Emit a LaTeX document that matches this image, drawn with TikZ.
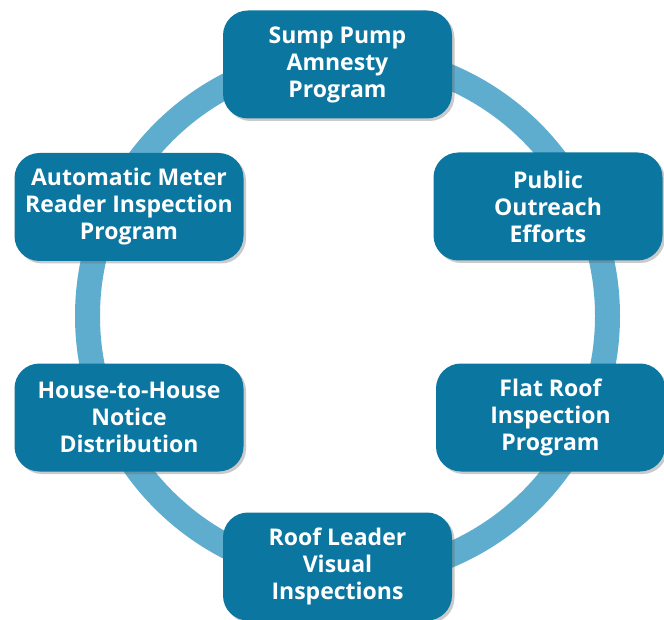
\documentclass[tikz,border=0pt]{standalone}
\usepackage{fontspec}
\setmainfont{Open Sans}
\usepackage{tikz}
\usetikzlibrary{shadows}
\usepackage{xcolor}
\definecolor{ringblue}{HTML}{5EADCE}
\definecolor{boxblue}{HTML}{0B76A0}
\newcommand\programnode[2]{node[programbox] (#1) {#2}}

\begin{document}
\begin{tikzpicture}[x=1pt, y=-1pt,
        programbox/.style={draw=none, fill=boxblue, text=white, rounded corners=25pt,
            minimum width=229pt, minimum height=108pt, inner sep=0pt, align=center,
            font=\bfseries\fontsize{23}{27}\selectfont,
            drop shadow={shadow xshift=2.5pt, shadow yshift=-2.5pt, opacity=.35, fill=black!60}}]
    % Рамка
    \useasboundingbox (0,0) rectangle (664,620);

    % Кольцо
    \coordinate (center) at (347.5,316);
    \draw [ringblue, line width=25pt] (center) circle [radius=260pt];

    % Блоки
    \path
        (337.5,64.5) \programnode{sump}{Sump Pump\\Amnesty\\Program}
        (548,206.5) \programnode{outreach}{Public\\Outreach\\Efforts}
        (550.5,417.5) \programnode{flatroof}{Flat Roof\\Inspection\\Program}
        (337.5,566.5) \programnode{leader}{Roof Leader\\Visual\\Inspections}
        (129,417.5) \programnode{house}{House-to-House\\Notice\\Distribution}
        (129,207) \programnode{meter}{Automatic Meter\\Reader Inspection\\Program};
\end{tikzpicture}
\end{document}
